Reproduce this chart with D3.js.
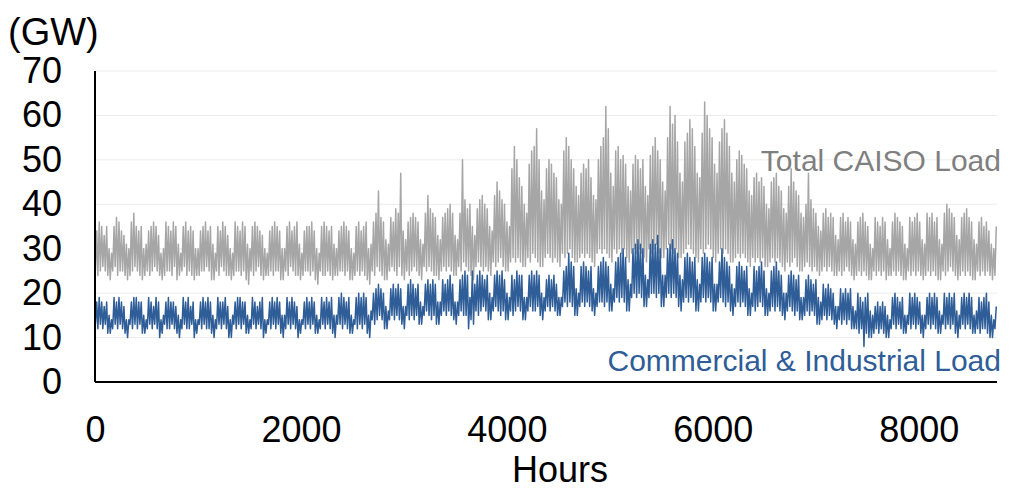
<!DOCTYPE html>
<html>
<head>
<meta charset="utf-8">
<script src="https://cdn.jsdelivr.net/npm/d3@7"></script>
<style>
  body { margin: 0; background: #fff; }
  text { font-family: "Liberation Sans", Arial, sans-serif; }
</style>
</head>
<body>
<svg id="chart" width="1015" height="490"></svg>
<script>
// Daily peak and trough loads (GW), one row per week, 365 days.
const totalPeak = [
  34,36,35,33,35,30,29, 35,37,36,34,33,31,30, 36,38,35,34,35,30,31, 34,35,36,35,33,29,30,
  36,35,34,36,35,31,29, 35,36,34,35,34,30,30, 34,35,36,34,35,31,29, 35,34,36,35,33,30,29,
  36,35,34,36,35,31,30, 35,36,35,34,33,30,29, 34,35,36,35,34,30,30, 35,36,34,35,36,31,29,
  34,35,35,36,34,30,29, 35,36,35,34,35,31,30, 34,35,36,35,34,30,29, 35,36,34,35,36,30,31,
  36,38,43,37,36,32,31, 37,36,39,38,47,34,32, 36,37,38,37,36,32,31, 38,42,39,38,37,33,32,
  37,38,39,40,38,33,32, 38,50,41,39,40,35,33, 39,41,42,40,39,35,34, 42,45,43,41,40,36,35,
  48,53,50,46,44,40,38, 49,52,53,57,50,43,41, 48,50,49,47,46,41,40, 52,55,53,50,48,44,42,
  47,49,48,50,46,42,41, 50,53,55,62,57,47,44, 52,53,50,51,49,44,43, 49,51,50,48,50,44,42,
  51,53,55,52,50,45,43, 55,62,58,60,54,47,45, 54,56,59,57,53,47,46, 56,63,60,57,55,49,47,
  54,57,59,56,53,47,45, 50,52,51,49,48,43,42, 46,47,45,46,44,40,39, 45,46,47,44,43,39,38,
  44,48,45,43,42,38,37, 40,47,41,39,38,35,34, 38,39,37,38,37,33,32, 37,38,36,37,36,32,31,
  36,37,38,36,35,31,30, 37,36,35,37,36,32,30, 36,38,37,36,35,31,30, 37,36,37,38,36,32,31,
  38,37,38,36,37,32,31, 38,40,39,38,37,33,32, 37,38,39,37,36,32,31, 36,37,35,36,34,31,30,
  35
];
const totalTrough = [
  25,24,25,26,25,24,23, 25,26,24,25,25,24,23, 24,25,26,25,24,23,24, 25,24,25,26,25,24,23,
  24,25,25,24,26,23,24, 25,26,24,25,24,23,24, 24,25,25,26,25,23,23, 25,24,26,25,24,24,23,
  24,25,25,24,25,23,22, 25,24,25,26,24,23,24, 24,25,24,25,25,23,23, 25,24,26,25,24,24,23,
  24,25,25,24,25,23,22, 25,24,24,25,24,23,24, 24,25,25,24,25,23,23, 24,25,24,25,24,23,22,
  25,24,26,25,24,23,23, 25,26,25,24,26,24,23, 25,24,25,26,25,24,23, 26,25,26,25,24,24,23,
  25,26,25,26,25,24,24, 26,25,27,26,25,24,23, 26,27,26,25,26,25,24, 27,26,27,28,26,25,25,
  27,28,27,28,27,26,26, 28,27,29,28,27,26,26, 28,29,28,27,28,27,26, 29,28,29,30,28,27,27,
  28,29,28,29,28,27,26, 29,30,29,30,29,28,27, 30,29,30,29,30,28,27, 29,30,29,30,29,28,27,
  30,29,30,31,29,28,28, 30,31,30,29,30,28,28, 29,30,31,30,29,28,27, 30,29,30,31,30,28,27,
  29,30,29,30,29,27,27, 28,29,28,29,28,27,26, 28,27,28,27,28,26,26, 27,28,27,28,27,26,25,
  27,26,27,28,26,25,25, 26,27,26,25,26,25,24, 25,26,25,26,25,24,24, 25,24,25,26,25,24,23,
  24,25,24,25,24,23,23, 25,24,25,24,25,23,24, 24,25,24,25,24,23,23, 25,24,25,24,25,24,23,
  24,25,24,25,24,23,23, 25,24,25,26,25,24,23, 24,25,24,25,24,23,23, 25,24,25,24,25,24,23,
  24
];
const ciPeak = [
  18,19,18,17,18,15,14, 19,18,19,18,17,14,14, 18,19,19,18,18,15,14, 19,18,17,19,18,14,15,
  18,19,18,18,17,15,14, 19,18,19,17,18,14,14, 18,19,18,19,18,15,14, 19,18,18,19,17,14,15,
  18,19,19,18,18,15,14, 19,18,17,18,19,14,14, 18,19,18,19,18,15,15, 19,18,19,18,17,14,14,
  18,19,18,19,18,15,14, 19,18,19,18,19,15,15, 19,20,19,18,19,15,14, 19,20,19,20,19,15,16,
  20,21,22,21,20,17,16, 21,22,21,22,21,17,17, 22,23,22,21,22,18,17, 22,23,22,23,22,18,18,
  23,22,23,24,22,18,18, 23,24,25,24,19,25,22, 24,25,24,23,24,20,19, 24,25,24,25,23,20,19,
  24,23,25,24,24,19,19, 24,25,24,25,24,20,19, 23,24,23,24,22,19,19, 25,26,29,27,26,21,20,
  26,27,26,25,26,21,20, 26,27,28,27,26,22,21, 27,28,29,30,28,23,22, 30,31,32,31,30,24,23,
  31,32,31,33,30,24,24, 30,31,32,30,29,24,23, 28,29,28,27,28,23,22, 28,29,28,27,28,22,22,
  27,30,28,27,26,22,21, 26,27,26,25,26,21,20, 26,25,26,27,25,21,20, 25,26,27,25,24,20,20,
  24,25,24,23,24,19,19, 23,24,23,22,23,19,18, 22,21,22,21,20,17,17, 21,20,21,20,21,17,16,
  20,19,18,19,20,16,15, 17,18,17,18,17,15,14, 19,20,19,18,19,15,15, 20,19,20,19,18,15,15,
  19,20,19,20,19,16,15, 20,19,20,19,20,16,15, 19,20,19,20,19,15,16, 19,18,19,20,18,15,14,
  17
];
const ciTrough = [
  13,12,13,12,13,11,11, 12,13,12,13,12,11,10, 13,12,13,12,13,11,11, 12,13,12,13,12,10,11,
  13,12,12,13,12,11,10, 12,13,12,12,13,10,11, 13,12,13,12,12,11,10, 12,13,12,13,12,10,10,
  13,12,13,12,13,11,11, 12,13,12,13,12,10,11, 13,12,13,12,13,11,10, 12,13,12,13,12,10,11,
  13,12,13,12,13,11,11, 12,13,12,13,12,11,10, 13,13,12,13,12,11,11, 13,12,13,12,13,11,10,
  14,13,14,15,14,12,12, 14,15,14,15,14,13,12, 15,14,15,14,15,13,13, 15,16,15,14,15,13,13,
  15,16,15,16,15,14,13, 15,16,15,15,12,14,13, 16,15,16,17,16,14,14, 16,17,16,15,16,14,14,
  16,15,16,17,16,14,14, 16,17,16,16,17,15,14, 16,17,16,17,16,15,15, 17,18,17,18,17,15,15,
  17,18,17,18,17,16,15, 17,18,18,17,18,16,16, 18,19,18,19,18,16,16, 19,20,19,20,19,17,17,
  19,20,20,19,20,17,17, 19,20,19,20,19,17,16, 18,19,18,19,18,16,16, 18,19,18,19,18,16,16,
  18,19,18,17,18,16,15, 17,18,17,18,17,15,15, 17,16,17,18,17,15,15, 16,17,16,17,16,15,14,
  16,17,16,15,16,14,14, 15,16,15,16,15,13,13, 14,15,14,15,14,13,12, 14,13,14,13,14,12,12,
  12,11,12,8,11,10,10, 11,12,11,12,11,10,10, 12,13,12,13,12,11,11, 13,12,13,12,13,11,10,
  12,13,12,13,12,11,11, 13,12,13,12,13,11,10, 12,13,12,13,12,11,11, 12,11,12,12,11,10,10,
  12
];

const yTicks = [0, 10, 20, 30, 40, 50, 60, 70];
const xTicks = [0, 2000, 4000, 6000, 8000];
const hoursInYear = 8760;
// Typical hour of day of the overnight minimum and the afternoon maximum.
const troughHour = 4;
const peakHour = 17;

const seriesNames = ["Total CAISO Load", "Commercial & Industrial Load"];
const seriesColors = ["#a6a6a6", "#2e5d97"];
const labelColors = ["#7f7f7f", "#2e5d97"];

const svg = d3.select("#chart");
const margin = { left: 95, right: 18, top: 71, bottom: 108 };
const W = 1015, H = 490;

const x = d3.scaleLinear().domain([0, hoursInYear]).range([margin.left, W - margin.right]);
const y = d3.scaleLinear().domain([0, 70]).range([H - margin.bottom, margin.top]);

// horizontal gridlines
svg.append("g")
  .selectAll("line")
  .data(yTicks.filter(t => t > 0))
  .join("line")
  .attr("x1", x(0)).attr("x2", x(hoursInYear))
  .attr("y1", d => y(d)).attr("y2", d => y(d))
  .attr("stroke", "#ececec").attr("stroke-width", 1);

// hourly path built from each day's trough and peak
function dailyCycle(trough, peak) {
  const pts = [];
  for (let d = 0; d < peak.length; d++) {
    pts.push([d * 24 + troughHour, trough[d]]);
    pts.push([d * 24 + peakHour, peak[d]]);
  }
  return pts;
}

const line = d3.line().x(d => x(d[0])).y(d => y(d[1]));
const series = [dailyCycle(totalTrough, totalPeak), dailyCycle(ciTrough, ciPeak)];

svg.append("g")
  .selectAll("path")
  .data(series)
  .join("path")
  .attr("d", line)
  .attr("fill", "none")
  .attr("stroke", (d, i) => seriesColors[i])
  .attr("stroke-width", 1.5)
  .attr("stroke-linejoin", "round");

// axes
const yAxis = svg.append("g")
  .attr("transform", `translate(${margin.left},0)`)
  .call(d3.axisLeft(y).tickValues(yTicks).tickSize(0).tickPadding(33));
const xAxis = svg.append("g")
  .attr("transform", `translate(0,${y(0)})`)
  .call(d3.axisBottom(x).tickValues(xTicks).tickSize(0).tickPadding(34).tickFormat(d3.format("d")));

[yAxis, xAxis].forEach(g => {
  g.select(".domain").attr("stroke", "#000").attr("stroke-width", 2);
  g.selectAll("text").attr("font-size", 36).attr("fill", "#000")
    .attr("font-family", "'Liberation Sans', Arial, sans-serif");
});
xAxis.select(".domain").attr("d", `M${x(0)},0H${x(hoursInYear)}`);
yAxis.select(".domain").attr("d", `M0,${y(0)}V${y(70)}`);

// unit and axis title
svg.append("text").attr("x", 8).attr("y", 45)
  .attr("font-size", 38).attr("fill", "#000").text("(GW)");
svg.append("text").attr("x", 560).attr("y", 482)
  .attr("text-anchor", "middle").attr("font-size", 36).attr("fill", "#000").text("Hours");

// series labels
const labelValues = [47.5, 2.5];
svg.append("g")
  .selectAll("text")
  .data(seriesNames)
  .join("text")
  .attr("x", 1001)
  .attr("y", (d, i) => y(labelValues[i]))
  .attr("text-anchor", "end")
  .attr("font-size", 30)
  .attr("fill", (d, i) => labelColors[i])
  .text(d => d);
</script>
</body>
</html>
